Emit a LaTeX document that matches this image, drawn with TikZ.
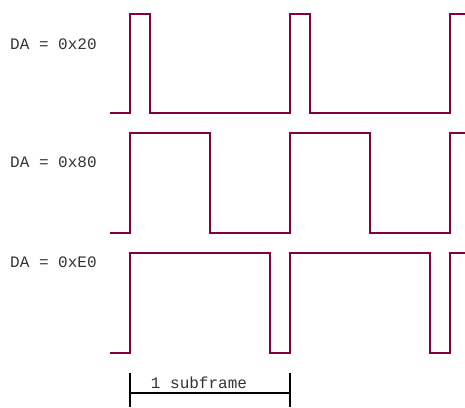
\documentclass[tikz,border=0pt]{standalone}
\usepackage{fontspec}
\setmonofont{Liberation Mono}
\definecolor{wavecol}{RGB}{128,0,64}

\begin{document}
\begin{tikzpicture}[x=1pt, y=-1pt, wave/.style={draw=wavecol, line width=2pt}, lbl/.style={font=\ttfamily\fontsize{16}{19}\selectfont, text=black!80, anchor=west, inner sep=0pt}]
    \useasboundingbox (0,0) rectangle (465,407);

    % Labels
    \node[lbl] (da-20) at (10,44) {DA = 0x20};
    \node[lbl] (da-80) at (10,162) {DA = 0x80};
    \node[lbl] (da-e0) at (10,262) {DA = 0xE0};

    % Waveforms
    \draw[wave] (110,113) -| (130,14) -| (150,113) -| (290,14) -| (310,113) -| (450,14) -- (465,14);
    \draw[wave] (110,233) -| (130,133) -| (210,233) -| (290,133) -| (370,233) -| (450,133) -- (465,133);
    \draw[wave] (110,353) -| (130,253) -| (270,353) -| (290,253) -| (430,353) -| (450,253) -- (465,253);

    % Subframe bracket
    \coordinate (sf-l) at (130,393);
    \coordinate (sf-r) at (290,393);
    \draw[line width=1.6pt] (130,373) -- (130,407);
    \draw[line width=1.6pt] (290,373) -- (290,407);
    \draw[line width=1.6pt] (sf-l) -- (sf-r);
    \node[lbl, anchor=base] (sf-text) at (199,388) {1 subframe};

\end{tikzpicture}
\end{document}
